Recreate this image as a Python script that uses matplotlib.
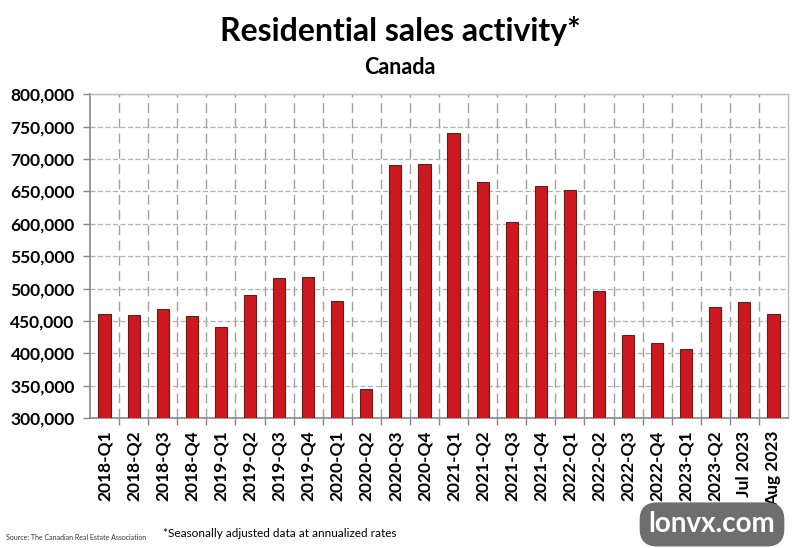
import matplotlib.pyplot as plt
from matplotlib.ticker import FuncFormatter, MultipleLocator
import numpy as np

periods = ['2018-Q1', '2018-Q2', '2018-Q3', '2018-Q4',
           '2019-Q1', '2019-Q2', '2019-Q3', '2019-Q4',
           '2020-Q1', '2020-Q2', '2020-Q3', '2020-Q4',
           '2021-Q1', '2021-Q2', '2021-Q3', '2021-Q4',
           '2022-Q1', '2022-Q2', '2022-Q3', '2022-Q4',
           '2023-Q1', '2023-Q2', 'Jul 2023', 'Aug 2023']
sales = [461000, 458500, 469000, 457500,
         441000, 489500, 516000, 518000,
         481000, 345000, 691500, 692500,
         739500, 664500, 603000, 658500,
         652500, 496500, 428000, 416000,
         406000, 471500, 480000, 460000]

plt.rcParams['font.family'] = ['Lato', 'DejaVu Sans']

fig = plt.figure(figsize=(8, 5.48), dpi=100)
ax = fig.add_axes([0.1125, 0.237, 0.8725, 0.591])

x = np.arange(len(periods))
ax.bar(x, sales, width=0.42, color='#CC181E', edgecolor='#6b1a1a', linewidth=0.8, zorder=3)

ax.set_xlim(-0.5, len(periods) - 0.5)
ax.set_ylim(300000, 800000)
ax.yaxis.set_major_locator(MultipleLocator(50000))
ax.yaxis.set_major_formatter(FuncFormatter(lambda v, p: f'{int(v):,}'))

# labels at bar centres, ticks/grid at category boundaries
ax.set_xticks(x)
ax.set_xticklabels(periods, rotation=90, fontsize=12.5, fontweight='bold')
ax.set_xticks(np.arange(0.5, len(periods) - 1, 1.0), minor=True)
ax.tick_params(axis='x', which='major', length=0, pad=9)
ax.tick_params(axis='x', which='minor', length=5, width=1, color='#888888')
ax.tick_params(axis='y', length=5, width=1, color='#888888', labelsize=12.5, pad=6)
for lbl in ax.get_yticklabels():
    lbl.set_fontweight('bold')

ax.grid(axis='y', which='major', color='#b0b0b0', linestyle=(0, (4, 2)), linewidth=0.9, zorder=0)
ax.grid(axis='x', which='minor', color='#a0a0a0', linestyle=(0, (7, 4)), linewidth=1.0, zorder=0)

for side in ['left', 'bottom']:
    ax.spines[side].set_color('#888888')
    ax.spines[side].set_linewidth(1.2)
for side in ['top', 'right']:
    ax.spines[side].set_color('#bbbbbb')
    ax.spines[side].set_linewidth(1.0)

fig.text(0.5, 0.943, 'Residential sales activity*', ha='center', va='center',
         fontsize=23, fontweight='bold')
fig.text(0.5, 0.876, 'Canada', ha='center', va='center', fontsize=15.5, fontweight='bold')
fig.text(0.007, 0.02, 'Source: The Canadian Real Estate Association', ha='left', va='center',
         fontsize=5, color='#333333')
fig.text(0.35, 0.027, '*Seasonally adjusted data at annualized rates', ha='center', va='center',
         fontsize=8.5)
fig.text(0.89, 0.043, 'lonvx.com', ha='center', va='center', fontsize=20, fontweight='bold',
         color='white',
         bbox=dict(boxstyle='round,pad=0.3,rounding_size=0.6', facecolor='#6e6e6e', edgecolor='#6e6e6e'))

fig.savefig('out.png', dpi=100)
